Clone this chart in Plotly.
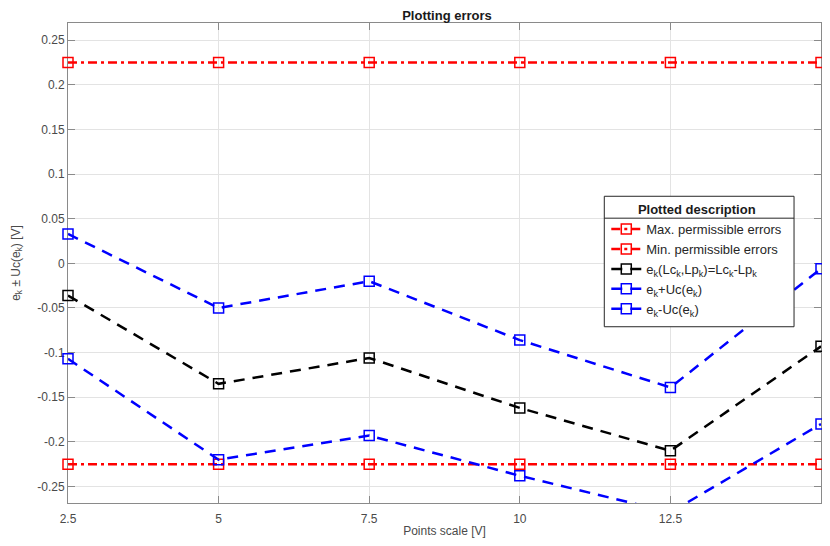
import plotly.graph_objects as go

# ---- data ----
x_points = [2.5, 5, 7.5, 10, 12.5, 15]
max_err = [0.225, 0.225, 0.225, 0.225, 0.225, 0.225]
min_err = [-0.225, -0.225, -0.225, -0.225, -0.225, -0.225]
ek = [-0.036, -0.135, -0.106, -0.162, -0.210, -0.093]
ek_plus = [0.033, -0.050, -0.020, -0.086, -0.139, -0.006]
ek_minus = [-0.107, -0.220, -0.193, -0.238, -0.279, -0.180]

x_ticks = [2.5, 5, 7.5, 10, 12.5, 15]
x_ticklabels = ["2.5", "5", "7.5", "10", "12.5", "15"]
y_ticks = [-0.25, -0.2, -0.15, -0.1, -0.05, 0, 0.05, 0.1, 0.15, 0.2, 0.25]
y_ticklabels = ["-0.25", "-0.2", "-0.15", "-0.1", "-0.05", "0", "0.05", "0.1", "0.15", "0.2", "0.25"]

names = [
    "Max. permissible errors",
    "Min. permissible errors",
    "e<sub>k</sub>(Lc<sub>k</sub>,Lp<sub>k</sub>)=Lc<sub>k</sub>-Lp<sub>k</sub>",
    "e<sub>k</sub>+Uc(e<sub>k</sub>)",
    "e<sub>k</sub>-Uc(e<sub>k</sub>)",
]
series = [max_err, min_err, ek, ek_plus, ek_minus]
colors = ["#ff0000", "#ff0000", "#000000", "#0000ff", "#0000ff"]
dashes = ["9px,4px,3px,4px", "9px,4px,3px,4px", "11px,8px", "11px,8px", "11px,8px"]

FONT = "Liberation Sans, Arial, Helvetica, sans-serif"

fig = go.Figure()
for name, ys, c, d in zip(names, series, colors, dashes):
    fig.add_trace(go.Scatter(
        x=x_points, y=ys, name=name, mode="lines+markers",
        line=dict(color=c, width=2.5, dash=d),
        marker=dict(symbol="square-open", size=10, color=c, line=dict(width=1.5, color=c)),
        cliponaxis=False,
    ))

# page body has an 8px margin on every side: figure sits at (8, 8) in the window
OFF = 8
W, H = 830 - 2 * OFF, 546 - 2 * OFF
L, T = 68 - OFF, 23 - OFF
R = 0
B = H - (505 - OFF)
pw, ph = W - L - R, H - T - B

def px_x(p):
    return (p - OFF - L) / pw

def px_y(p):
    return (H - B - (p - OFF)) / ph

# legend box (drawn as shapes), reference window pixels
lx0, lx1, ly0, ly1, lsep = 605, 795, 197, 328, 219
shapes = [
    dict(type="rect", xref="paper", yref="paper", layer="above",
         x0=px_x(lx0), x1=px_x(lx1), y0=px_y(ly1), y1=px_y(ly0),
         fillcolor="white", line=dict(color="#262626", width=1)),
    dict(type="line", xref="paper", yref="paper", layer="above",
         x0=px_x(lx0), x1=px_x(lx1), y0=px_y(lsep), y1=px_y(lsep),
         line=dict(color="#262626", width=1)),
]

axis_common = dict(
    showgrid=True, gridcolor="#e3e3e3", gridwidth=1,
    showline=True, linecolor="#8a8a8a", linewidth=1, mirror="ticks",
    ticks="inside", ticklen=7, tickcolor="#8a8a8a", tickwidth=1,
    zeroline=False, layer="below traces",
    tickfont=dict(family=FONT, size=12, color="#4a4a4a"),
)

fig.update_layout(
    width=W, height=H,
    margin=dict(l=L, r=R, t=T, b=B),
    paper_bgcolor="white", plot_bgcolor="white",
    font=dict(family=FONT, color="#262626"),
    title=dict(text="Plotting errors", x=px_x(447.5), xref="paper", xanchor="center",
               y=1 - 7 / H, yref="container", yanchor="middle",
               font=dict(family=FONT, size=13, color="#1a1a1a", weight="bold")),
    xaxis=dict(range=[2.5, 15], tickvals=x_ticks, ticktext=x_ticklabels,
               ticklabelstandoff=5,
               title=dict(text="Points scale [V]", standoff=3,
                          font=dict(family=FONT, size=12, color="#4a4a4a")),
               **axis_common),
    yaxis=dict(range=[-0.2685, 0.2693], tickvals=y_ticks, ticktext=y_ticklabels,
               title=dict(text="e<sub>k</sub> ± Uc(e<sub>k</sub>) [V]", standoff=14,
                          font=dict(family=FONT, size=12, color="#4a4a4a")),
               **axis_common),
    legend=dict(
        x=px_x(lx0 + 2), y=px_y(ly0 + 1), xanchor="left", yanchor="top",
        bgcolor="rgba(0,0,0,0)", borderwidth=0,
        font=dict(family=FONT, size=13, color="#262626"),
        title=dict(text="Plotted description", side="top center",
                   font=dict(family=FONT, size=13, color="#1a1a1a", weight="bold")),
        tracegroupgap=0, itemwidth=30,
    ),
    shapes=shapes,
    showlegend=True,
)

fig.write_html("out.html")
